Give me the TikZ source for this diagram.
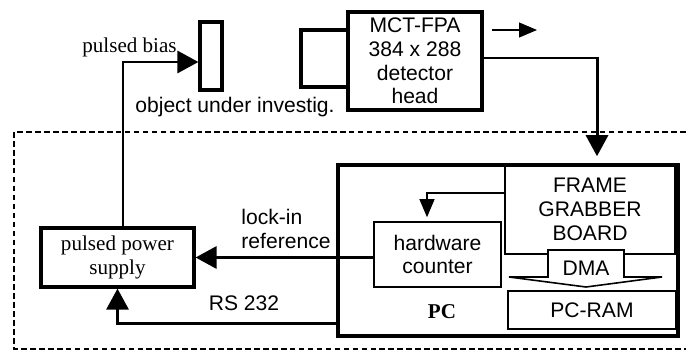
\documentclass[tikz,border=0pt]{standalone}
\usepackage{fontspec}
\setmainfont{Liberation Serif}
\setsansfont{Liberation Sans}
\usetikzlibrary{arrows.meta,positioning,calc}

\begin{document}
\begin{tikzpicture}[x=0.02cm,y=-0.02cm,font=\sffamily\fontsize{12}{13.5}\selectfont,
heavy/.style={draw,line width=1.8pt,fill=white,align=center,inner sep=1pt},
light/.style={draw,line width=0.9pt,fill=white,align=center,inner sep=1pt},
serif/.style={font=\rmfamily\fontsize{12}{13.5}\selectfont},
bigarrow/.style={line width=1.7pt,-{Triangle[length=0.42cm,width=0.44cm]}},
thinarrow/.style={line width=0.6pt,-{Triangle[length=0.36cm,width=0.3cm]}}]
\useasboundingbox (0,0) rectangle (686,351);
\draw[line width=0.6pt,dash pattern=on 3.2pt off 1.9pt] (686,132) -| (14,349) -- (686,349);
\node[heavy,minimum width=0.94cm,minimum height=1.14cm] (lens) at (324.5,58.5) {};
\node[heavy,minimum width=2.68cm,minimum height=1.96cm] (det) at (415,61) {MCT-FPA\\384 x 288\\detector\\head};
\node[heavy,minimum width=0.44cm,minimum height=1.36cm] (obj) at (211,56) {};
\node[light,minimum width=3.4cm,minimum height=1.78cm] (fg) at (590,209.5) {FRAME\\GRABBER\\BOARD};
\node[light,minimum width=2.54cm,minimum height=1.3cm] (cnt) at (437.5,254.5) {hardware\\counter};
\node[light,minimum width=3.36cm,minimum height=0.76cm] (ram) at (592,310) {PC-RAM};
\draw[line width=0.9pt,fill=white] (548,250) -- (624,250) -- (624,277) -- (662,277) -- (586,287) -- (509,277) -- (548,277) -- cycle;
\node (dma) at (586,268) {DMA};
\node[draw,line width=1.9pt,minimum width=6.8cm,minimum height=3.42cm] (pc) at (508,250.5) {};
\node[serif,font=\rmfamily\bfseries\fontsize{12}{13.5}\selectfont] (pclbl) at (442,312) {PC};
\node[heavy,serif,minimum width=3.06cm,minimum height=1.18cm] (supply) at (117.5,257.5) {pulsed power\\supply};
\coordinate (beam) at (492,30);
\draw[thinarrow] (beam) -- ++(45,0);
\draw[bigarrow] ([xshift=0.11cm]supply.north) |- ([yshift=-0.12cm]obj.west);
\draw[bigarrow] ([yshift=0.06cm]det.east) -| ([xshift=0.14cm,yshift=0.16cm]fg.north);
\draw[thinarrow] ([yshift=0.33cm]fg.west) -| ([xshift=-0.21cm,yshift=0.08cm]cnt.north);
\draw[bigarrow] (cnt.west |- supply.east) -- (supply.east);
\draw[bigarrow] ([yshift=-1.47cm]pc.west) -| (supply.south);
\node[serif] (bias) at (129.5,47) {pulsed bias};
\node (objlbl) at (235,107) {object under investig.};
\node[align=left] (lockin) at (286,229) {lock-in\\reference};
\node (rs) at (244,303) {RS 232};
\end{tikzpicture}
\end{document}
